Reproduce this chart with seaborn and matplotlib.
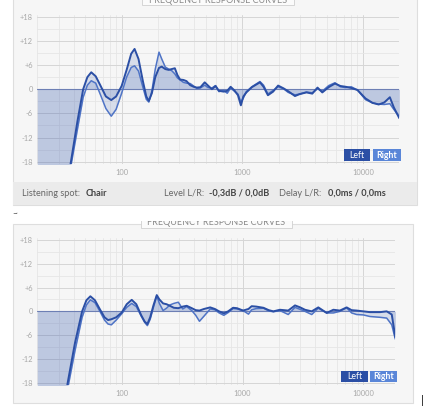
import numpy as np
import pandas as pd
import seaborn as sns
import matplotlib.pyplot as plt
from matplotlib.patches import Rectangle
from matplotlib.ticker import FixedLocator, NullFormatter

# ---- data (dB vs Hz) ----
top_freq = [20, 30, 38, 43, 48, 52, 56, 61, 67, 74, 82, 90, 100, 110, 120, 128, 138, 150,
            160, 168, 178, 190, 204, 215, 230, 245, 260, 276, 290, 305, 325, 345, 370, 395,
            420, 450, 488, 520, 560, 600, 640, 700, 750, 800, 860, 920, 973, 1020, 1080,
            1200, 1400, 1500, 1630, 1800, 1980, 2200, 2400, 2730, 3000, 3400, 3800, 4200,
            4600, 5200, 5860, 6500, 7200, 8000, 9000, 10500, 12000, 13500, 15000, 16700,
            18000, 20000]
top_left = [-60, -37, -18, -8, 0, 3, 4.2, 3.2, 0.8, -1.8, -2.7, -1.8, 0.8, 4.8, 8.8, 10, 7.5, 2,
            -1.8, -2.9, -1, 3, 5.3, 5.6, 5.0, 4.8, 5.0, 5.2, 3.5, 2.4, 2.3, 2.0, 1.0, 0.6,
            0.4, 0.5, 1.7, 0.9, 0.0, 0.8, -0.4, -0.6, -0.4, 0.6, -0.3, -1.5, -4.0, -1.8, -0.8,
            0.5, 1.7, 0.6, -1.5, -0.6, 0.9, 0.2, -0.5, -1.7, -1.2, -0.8, -1.1, 0.4,
            -0.8, 0.5, 1.4, 0.8, 0.6, 0.3, -0.2, -2.3, -3.4, -3.8, -3.3, -2.0,
            -4.5, -7.2]
top_right = [-60, -38, -19, -10, -2, 1, 2.1, 1.5, -1.5, -4.8, -6.7, -5, -1, 3, 5.4, 5.8, 4.5, 0.5,
             -2.5, -3.2, -0.5, 5, 9.2, 7.5, 5.5, 5.0, 4.6, 3.8, 2.8, 2.3, 1.7, 1.5, 1.4, 0.8,
             0.2, 0.3, 1.0, 0.4, 0.3, 0.9, -0.6, -0.3, -1.0, 0.3, -0.5, -1.2, -3.2, -2.2, -0.6,
             0.6, 1.9, 1.0, -1.2, -0.3, 0.6, 0.1, -0.8, -1.4, -1.2, -0.7, -0.9, 0.1,
             -0.5, 0.9, 1.6, 0.6, 0.4, 0.6, -0.2, -2.6, -3.4, -3.7, -3.8, -3.6,
             -5.0, -6.8]

bot_freq = [20, 30, 35.7, 41, 47, 51, 55, 60, 66, 72, 77, 82, 90, 100, 110, 121, 132, 145, 155,
            163, 172, 183, 195, 205, 220, 235, 250, 270, 294, 320, 345, 380, 410, 440, 480,
            540, 590, 640, 700, 760, 835, 900, 1010, 1120, 1190, 1300, 1490, 1650, 1800,
            2040, 2390, 2720, 3000, 3290, 3740, 4240, 4975, 5650, 6400, 7280, 8000, 8810,
            10000, 11350, 13740, 15620, 17200, 18400]
bot_left = [-60, -33, -18, -8, 0, 2.8, 3.8, 2.8, 0.5, -1.5, -2.2, -2.0, -1.5, -0.3, 1.8, 2.9, 1.8,
            -1.0, -2.6, -3.2, -1.5, 1.5, 4.1, 3.0, 2.0, 1.8, 1.4, 0.9, 0.8, 1.2, 1.4, 0.8, 0.3,
            0.2, 0.6, 1.0, 0.6, 0.0, -0.5, 0.0, 0.9, 0.8, 0.2, 0.6, 1.3, 1.2, 0.9, 0.3, 0.0,
            0.4, 0.2, 1.5, 1.0, 0.4, 0.0, 1.0, -0.4, 0.4, 0.2, 1.0, 0.3, 0.2,
            0.0, -0.2, -0.2, 0.0, -0.8, -6.5]
bot_right = [-60, -35, -19.5, -10, -1.5, 1.6, 2.9, 2.2, 0, -2.2, -3.2, -3.4, -2.2, -0.6, 1.0, 2.0,
             1.2, -1.2, -2.8, -3.6, -2.0, 1.0, 3.9, 2.0, 0.2, 0.8, 1.6, 2.0, 2.3, 0.6, 1.2, 0.2,
             -1.0, -2.5, -1.2, 0.6, 0.4, -0.4, -1.0, -0.3, 0.7, 0.6, 0.2, -0.7, 0.4, 0.7, 0.8,
             0.1, -0.1, 0.2, -0.8, 1.0, 0.5, 0.0, -0.8, 0.8, -0.4, -0.4, 0.0, 0.9, -0.4, -0.8,
             -0.9, -1.3, -1.5, -1.7, -3.4, -7.0]

channels = ['Left', 'Right']
db_ticks = [-18, -12, -6, 0, 6, 12, 18]
db_labels = ['-18', '-12', '-6', '0', '+6', '+12', '+18']
freq_ticks = [100, 1000, 10000]
freq_labels = ['100', '1000', '10000']

# ---- styling ----
sns.set_style('white')
plt.rcParams['font.family'] = ['Lato', 'DejaVu Sans']

W, H = 433, 407
dark = '#2b4fa5'
light = '#4f74c6'
fill = '#3a5bb0'
panel_bg = '#f6f6f6'
grey_txt = '#a8a8a8'

fig = plt.figure(figsize=(W / 100, H / 100), dpi=100)
fig.patch.set_facecolor('white')


def fx(x):
    return x / W


def fy(y):
    return 1 - y / H


def rect(x0, y0, x1, y1, **kw):
    r = Rectangle((fx(x0), fy(y1)), (x1 - x0) / W, (y1 - y0) / H,
                  transform=fig.transFigure, **kw)
    fig.add_artist(r)
    return r


def add_axes(x0, y0, x1, y1):
    return fig.add_axes([fx(x0), fy(y1), (x1 - x0) / W, (y1 - y0) / H])


def draw_panel(ax, freq, left, right, fmax):
    df = pd.DataFrame({
        'freq': list(freq) * 2,
        'db': list(left) + list(right),
        'channel': ['Left'] * len(freq) + ['Right'] * len(freq),
    })
    ax.fill_between(freq, 0, left, color=fill, alpha=0.16, lw=0, zorder=1)
    ax.fill_between(freq, 0, right, color=fill, alpha=0.16, lw=0, zorder=1)
    ax.axhline(0, color='#6d7fb4', lw=0.8, zorder=2)
    sns.lineplot(data=df[df.channel == 'Right'], x='freq', y='db', color=light,
                 lw=1.1, estimator=None, sort=False, legend=False, ax=ax, zorder=3)
    sns.lineplot(data=df[df.channel == 'Left'], x='freq', y='db', color=dark,
                 lw=1.4, estimator=None, sort=False, legend=False, ax=ax, zorder=4)
    ax.set_xscale('log')
    ax.set_xlim(20, fmax)
    ax.set_ylim(-18.5, 18.5)
    ax.set_facecolor('none')
    for s in ax.spines.values():
        s.set_visible(False)
    ax.set_yticks(db_ticks)
    ax.set_yticklabels(db_labels)
    ax.yaxis.set_minor_locator(FixedLocator(np.arange(-15, 18, 6)))
    ax.set_xticks(freq_ticks)
    ax.set_xticklabels(freq_labels)
    minors = [m * 10 ** e for e in range(1, 5) for m in range(2, 10) if 20 <= m * 10 ** e <= fmax]
    ax.xaxis.set_minor_locator(FixedLocator(minors))
    ax.xaxis.set_minor_formatter(NullFormatter())
    ax.grid(which='major', color='#d6d6d6', lw=0.7, zorder=0)
    ax.grid(which='minor', color='#e6e6e6', lw=0.6, zorder=0)
    ax.set_axisbelow(True)
    ax.tick_params(which='both', length=0, labelsize=5.4, labelcolor=grey_txt)
    ax.tick_params(axis='y', pad=3)
    ax.tick_params(axis='x', pad=3.5)
    ax.set_xlabel('')
    ax.set_ylabel('')


def legend_boxes(x, y0, y1, wl, wr, gap):
    rect(x, y0, x + wl, y1, facecolor=dark, edgecolor='none', zorder=5)
    rect(x + wl + gap, y0, x + wl + gap + wr, y1, facecolor='#5a86d8', edgecolor='none', zorder=5)
    ym = fy((y0 + y1) / 2)
    fig.text(fx(x + wl / 2), ym, 'Left', color='white', fontsize=6.3, ha='center',
             va='center', zorder=6)
    fig.text(fx(x + wl + gap + wr / 2), ym, 'Right', color='white', fontsize=6.3,
             ha='center', va='center', fontweight='bold', zorder=6)


# ---- top screenshot ----
rect(13, -5, 417, 205, facecolor=panel_bg, edgecolor='#dedede', lw=0.8, zorder=-2)
rect(13, 181.5, 417, 205, facecolor='#ebebeb', edgecolor='none', zorder=-1)
rect(141.7, -5, 294, 5, facecolor='#fbfbfb', edgecolor='#d0d0d0', lw=0.6, zorder=1)
fig.text(fx(218), fy(0.5), 'FREQUENCY RESPONSE CURVES', fontsize=6.5, color='#8a8a8a',
         ha='center', va='center', zorder=2)

ax1 = add_axes(37.3, 14.7, 399.3, 163.7)
draw_panel(ax1, top_freq, top_left, top_right, 20000)
legend_boxes(344, 149, 161.3, 26, 28, 2.7)

yb = fy(193)
fs = 6.6
fig.text(fx(80), yb, 'Listening spot:', fontsize=fs, color='#666666', va='center', ha='right')
fig.text(fx(86), yb, 'Chair', fontsize=fs, color='#444444', va='center', fontweight='bold')
fig.text(fx(204), yb, 'Level L/R:', fontsize=fs, color='#666666', va='center', ha='right')
fig.text(fx(209.3), yb, '-0,3dB / 0,0dB', fontsize=fs, color='#444444', va='center',
         fontweight='bold')
fig.text(fx(321), yb, 'Delay L/R:', fontsize=fs, color='#666666', va='center', ha='right')
fig.text(fx(328.3), yb, '0,0ms / 0,0ms', fontsize=fs, color='#444444', va='center',
         fontweight='bold')

# ---- bottom screenshot ----
rect(13, 224, 413, 403, facecolor=panel_bg, edgecolor='#dedede', lw=0.8, zorder=-2)
rect(140.7, 214, 291.7, 228.3, facecolor='#fbfbfb', edgecolor='#d0d0d0', lw=0.6, zorder=1)
fig.text(fx(216), fy(222.3), 'FREQUENCY RESPONSE CURVES', fontsize=6.5, color='#8a8a8a',
         ha='center', va='center', zorder=2)
rect(100, 206, 330, 220.6, facecolor='white', edgecolor='none', zorder=3)

ax2 = add_axes(37.3, 238, 395.3, 384.7)
draw_panel(ax2, bot_freq, bot_left, bot_right, 18400)
legend_boxes(341, 370.7, 382, 27.3, 26.4, 2)

fig.text(fx(15), fy(214), '~', fontsize=6, color='#222222', ha='center', va='center', zorder=4)
fig.text(fx(422), fy(400.5), '|', fontsize=8, color='black', ha='center', va='center')

fig.savefig('out.png', dpi=100)
